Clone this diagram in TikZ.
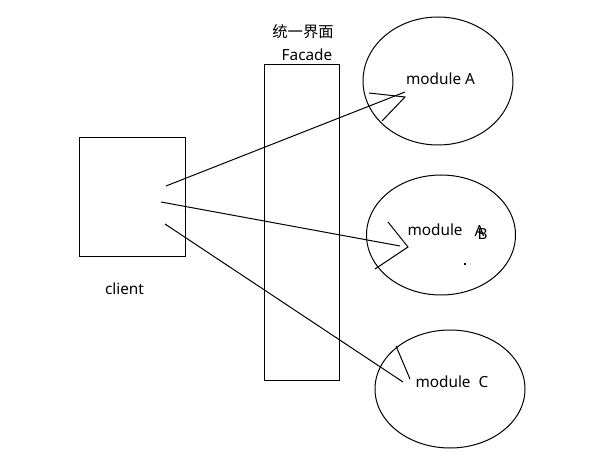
\documentclass[tikz,border=0pt]{standalone}
\usepackage{fontspec}
\setmainfont{Noto Sans}
\newfontfamily\cjk{Noto Sans CJK SC}
\usetikzlibrary{shapes.geometric}
\begin{document}
\begin{tikzpicture}[x=0.75pt,y=-0.75pt,
  every path/.style={line width=0.75pt},
  lbl/.style={inner sep=0pt,font=\fontsize{11.5}{14}\selectfont},
  modell/.style={draw,ellipse,inner sep=0pt}]
\useasboundingbox[fill=white] (0,0) rectangle (600,463);
% client
\node[draw,minimum width=106*0.75pt,minimum height=119*0.75pt,inner sep=0pt] (client) at (132,197.5) {};
\node[lbl] (clientlbl) at (124.5,289) {client};
% facade
\node[draw,minimum width=75*0.75pt,minimum height=316*0.75pt,inner sep=0pt] (facade) at (301.5,223) {};
\node[lbl,font=\fontsize{11.5}{14}\selectfont\cjk] (cn) at (303,32) {统一界面};
\node[lbl] (fac) at (307,55) {Facade};
% modules
\node[modell,minimum width=150*0.75pt,minimum height=128*0.75pt] (ma) at (438,81) {};
\node[modell,minimum width=149*0.75pt,minimum height=120*0.75pt] (mb) at (441,235) {};
\node[modell,minimum width=150*0.75pt,minimum height=118*0.75pt] (mc) at (450,389) {};
\node[lbl] (ta) at (440.5,79) {module A};
\node[lbl,anchor=west] (tb) at (407,230) {module};
\node[lbl,anchor=west] (tbA) at (474,231) {A};
\node[lbl,anchor=west] (tbB) at (477,234) {B};
\node[fill,inner sep=0pt,minimum size=1.3pt] (dot) at (465,264) {};
\node[lbl,anchor=west] (tc) at (415,382) {module\ \ C};
% connectors
\coordinate (s1) at (166,186);
\coordinate (e1) at (405,92);
\coordinate (h1) at (405,97);
\coordinate (h1a) at (369,93);
\coordinate (h1b) at (382,121);
\coordinate (s2) at (161,202);
\coordinate (e2) at (400,246);
\coordinate (h2) at (408,247);
\coordinate (h2a) at (388,222);
\coordinate (h2b) at (375,269);
\coordinate (s3) at (165,224);
\coordinate (e3) at (403,382);
\coordinate (h3) at (410,379);
\coordinate (h3a) at (396,346);
\draw (s1) -- (e1);
\draw (h1a) -- (h1) -- (h1b);
\draw (s2) -- (e2);
\draw (h2a) -- (h2) -- (h2b);
\draw (s3) -- (e3);
\draw (h3a) -- (h3);
\end{tikzpicture}
\end{document}
